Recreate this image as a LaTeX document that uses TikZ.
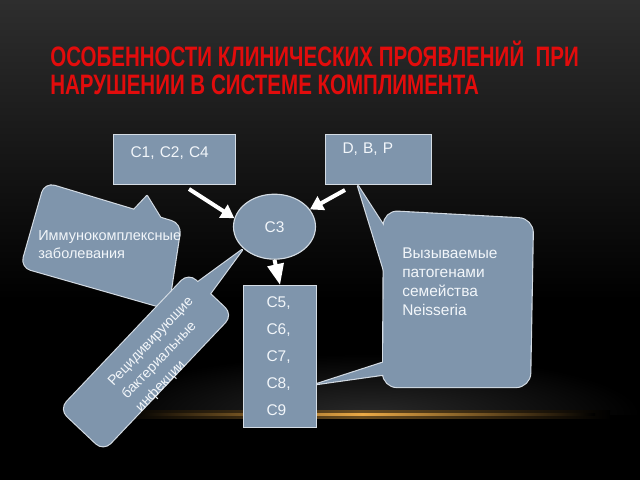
\documentclass[tikz,border=0pt]{standalone}
\usepackage{fontspec}
\setmainfont{Liberation Sans}
\newfontfamily\titlefont[FakeStretch=0.73]{Liberation Sans}
\usetikzlibrary{shapes.geometric,arrows.meta}
\newlength\pxu
\setlength\pxu{0.025cm}
\definecolor{slate}{RGB}{127,149,172}
\definecolor{edgec}{RGB}{212,220,228}
\definecolor{txt}{RGB}{242,246,250}
\definecolor{titlered}{RGB}{226,12,12}
\definecolor{gold}{RGB}{236,170,70}
\definecolor{bgtop}{RGB}{46,46,46}
\begin{document}
\begin{tikzpicture}[x=0.025cm,y=-0.025cm,
  titlestyle/.style={font=\titlefont\bfseries\fontsize{20}{24}\selectfont, text=titlered, inner sep=0pt, anchor=base west},
  box/.style={draw=edgec, fill=slate, line width=0.8pt, text=txt, font=\fontsize{11}{13}\selectfont, inner ysep=0pt, align=left},
  outline/.style={draw=edgec, line width=1.6pt, line join=round},
  body/.style={fill=slate},
  ctext/.style={text=txt, inner sep=0pt, align=left},
  flow/.style={draw=white, line width=2.85pt, -{Triangle[length=9.25pt,width=10.7pt]}}
]
\useasboundingbox (0,0) rectangle (640,480);
% background
\shade[top color=bgtop, bottom color=black] (0,0) rectangle (640,300);
\fill[black] (0,300) rectangle (640,480);
\begin{scope}
  \clip (0,300) rectangle (640,414);
  \shade[inner color=gray!32!black, outer color=black] (370,414) ellipse [x radius=270, y radius=60];
\end{scope}
\shade[left color=black, right color=black, middle color=gold!45!black] (110,410) rectangle (610,418);
\shade[left color=black, right color=black, middle color=gold] (130,413) rectangle (595,415.5);

% title
\node[titlestyle] (title1) at (50,66) {ОСОБЕННОСТИ КЛИНИЧЕСКИХ ПРОЯВЛЕНИЙ\ \ ПРИ};
\node[titlestyle] (title2) at (50,94) {НАРУШЕНИИ В СИСТЕМЕ КОМПЛИМЕНТА};

% callout 1
\path[outline, rounded corners=10\pxu] (45,183) -- (181,224) -- (168,309) -- (21,267) -- cycle;
\path[outline] (131,213) -- (147,196) -- (163,222);
\path[body, rounded corners=10\pxu] (45,183) -- (181,224) -- (168,309) -- (21,267) -- cycle;
\path[body] (131,213) -- (147,196) -- (163,222) -- cycle;
\node[ctext, anchor=base west, font=\fontsize{10.3}{12.8}\selectfont] (immtext) at (38,258) {Иммунокомплексные\\заболевания};

% callout 2
\path[outline, rounded corners=10\pxu] (188.5,273.6) -- (232.1,314.8) -- (103.5,450.4) -- (59.9,409.2) -- cycle;
\path[outline] (194.4,284.7) -- (242,250) -- (207.5,297.1);
\path[body, rounded corners=10\pxu] (188.5,273.6) -- (232.1,314.8) -- (103.5,450.4) -- (59.9,409.2) -- cycle;
\path[body] (194.4,284.7) -- (242,250) -- (207.5,297.1) -- cycle;
\node[ctext, rotate=46.5, font=\fontsize{10}{13.5}\selectfont] (rectext) at (165,355) {Рецидивирующие\\бактериальные\\инфекции};

% callout 3
\path[outline, rounded corners=14\pxu] (384,211) -- (533,219) -- (530,387) -- (383,387) -- cycle;
\path[outline] (389,234) -- (358,186) -- (389,287);
\path[outline] (388,361) -- (317,384) -- (388,374);
\path[body, rounded corners=14\pxu] (384,211) -- (533,219) -- (530,387) -- (383,387) -- cycle;
\path[body] (389,234) -- (358,186) -- (389,287) -- cycle;
\path[body] (388,361) -- (317,384) -- (388,374) -- cycle;
\node[ctext, anchor=base west, font=\fontsize{11}{13.3}\selectfont] (neistext) at (402,315) {Вызываемые\\патогенами\\семейства\\Neisseria};

% boxes
\node[box, anchor=north west, text width=88\pxu, inner xsep=17\pxu, text height=23\pxu, text depth=27\pxu] (c124) at (113,134) {C1, C2, C4};
\node[box, anchor=north west, text width=72\pxu, inner xsep=17\pxu, text height=19\pxu, text depth=31\pxu] (dbp) at (325,134) {D, B, P};
\node[box, ellipse, minimum width=82\pxu, minimum height=65\pxu, inner sep=0pt, align=center] (c3) at (274.5,226.7) {C3};
\node[box, anchor=north west, text width=27\pxu, inner xsep=23\pxu, minimum height=142\pxu, font=\fontsize{11}{19.2}\selectfont] (c59) at (243,285) {C5,\\C6,\\C7,\\C8,\\C9};

% arrows
\coordinate (a1) at (189,189);
\coordinate (a2) at (345,190);
\draw[flow] (a1) -- (c3.168);
\draw[flow] (a2) -- (c3.26.5);
\draw[flow, -{Triangle[length=14.9pt,width=11.4pt]}] (c3.south) -- (c59.north);
\end{tikzpicture}
\end{document}
